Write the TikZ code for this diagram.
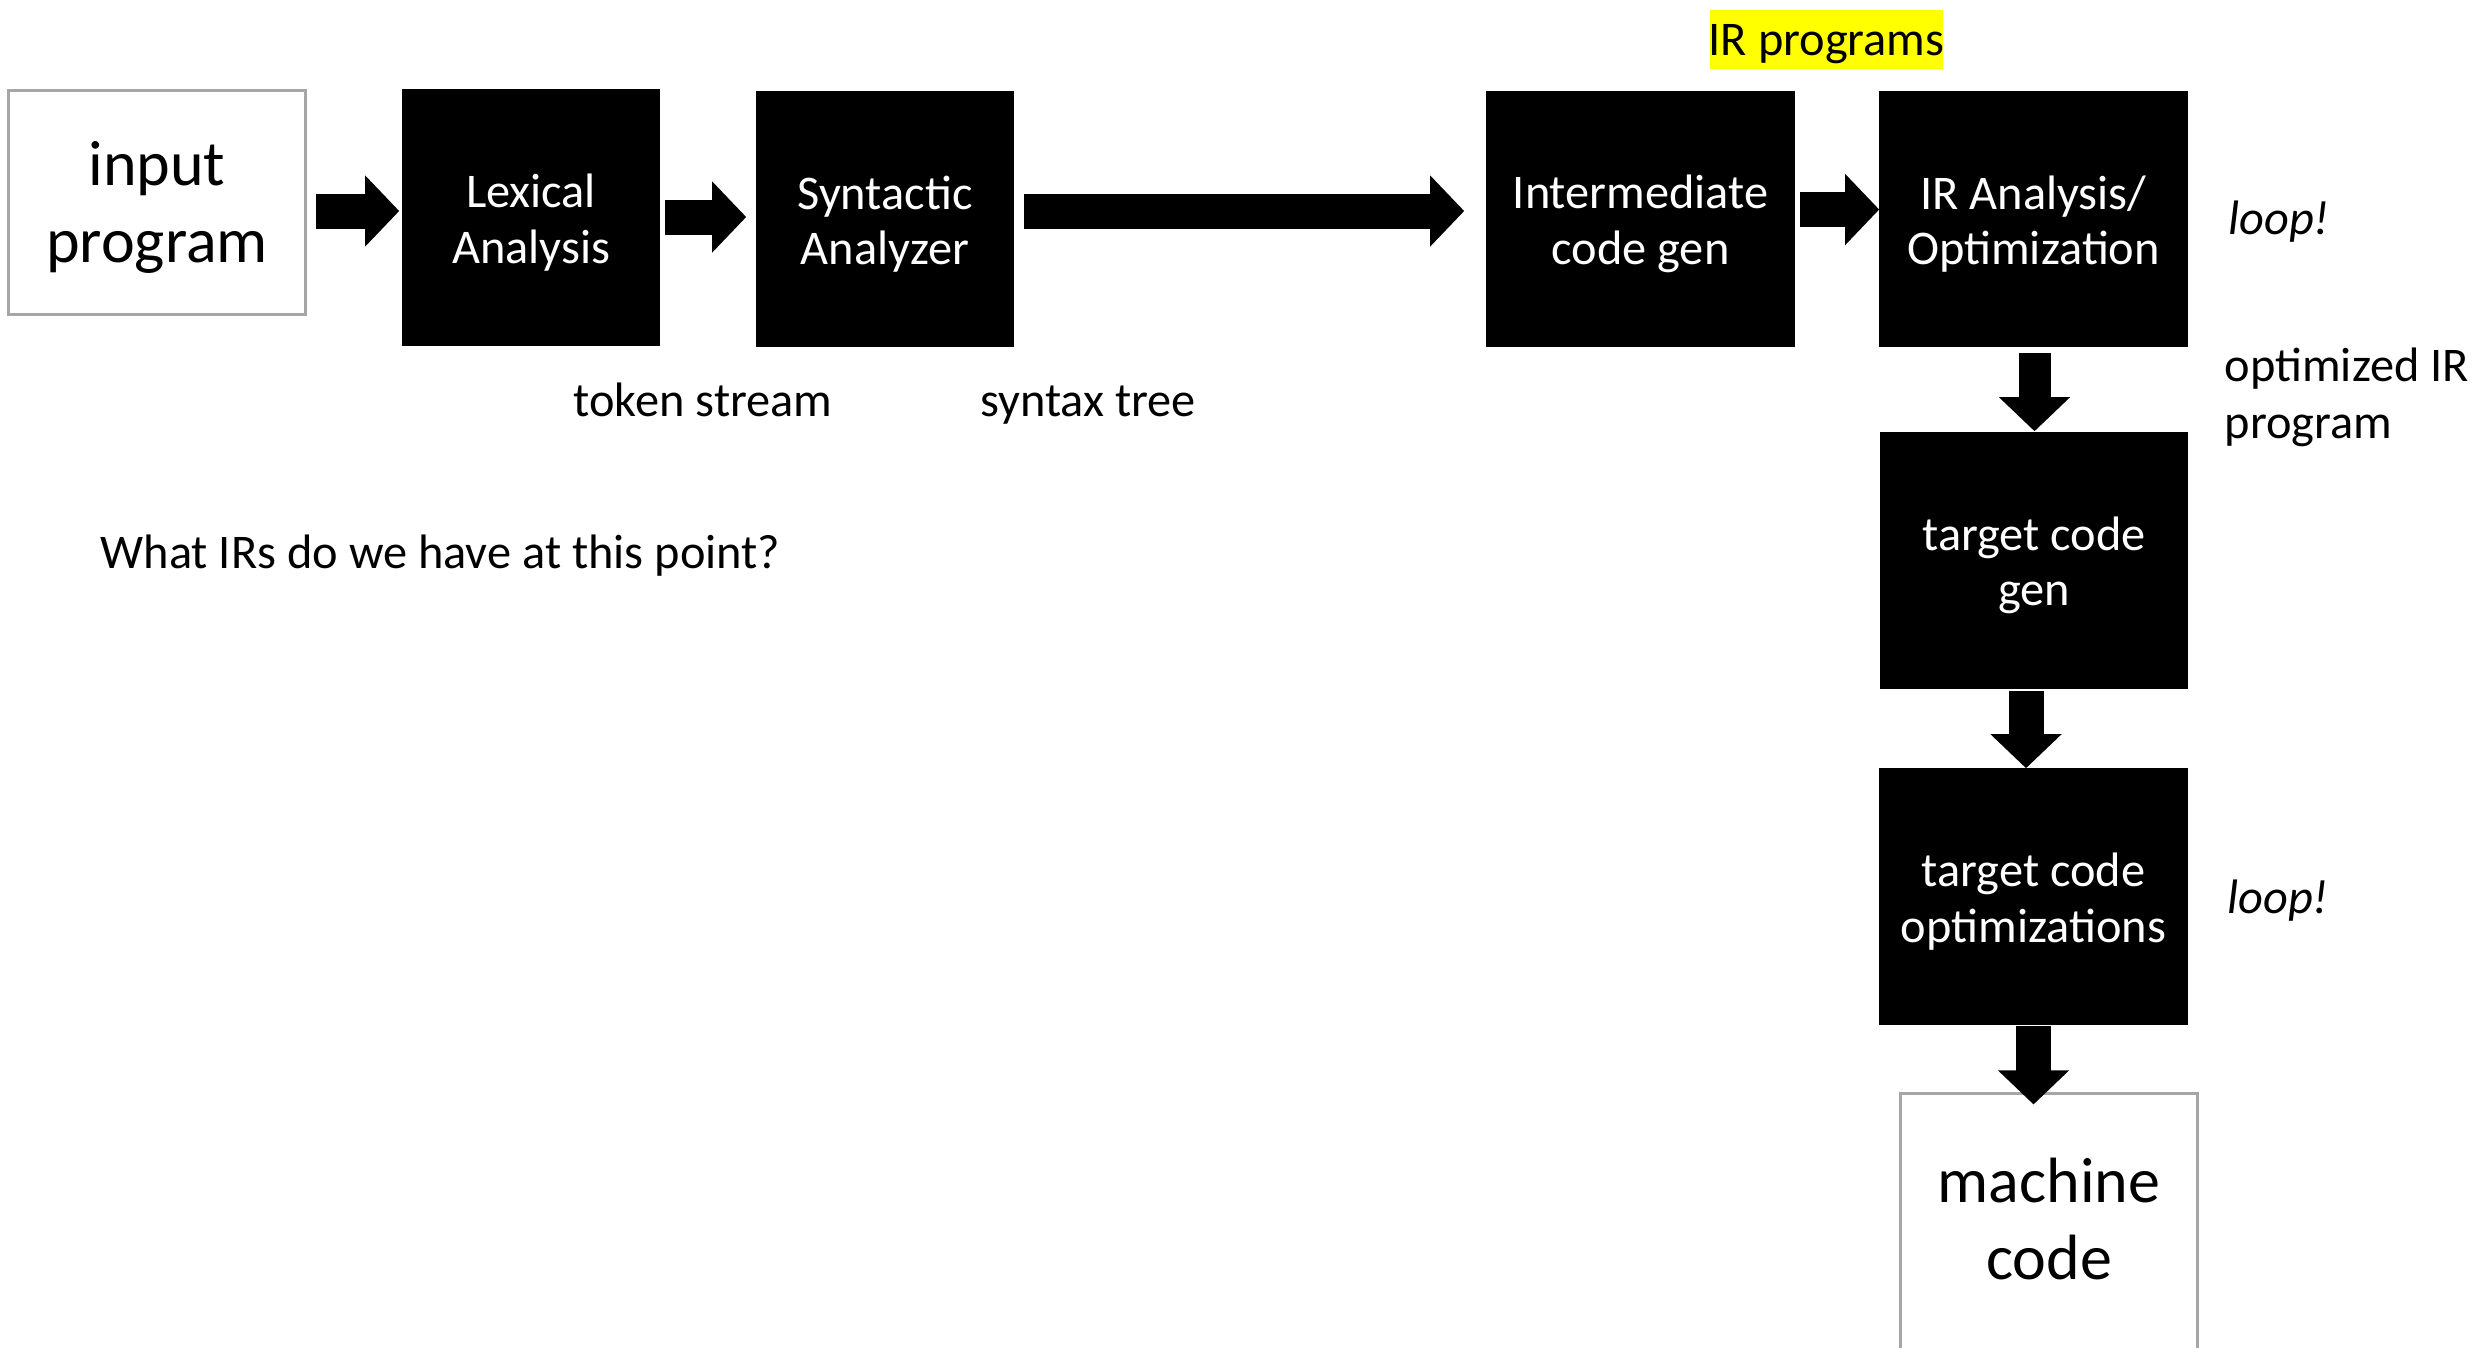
\documentclass[tikz,border=0pt]{standalone}
\usepackage{fontspec}
\setmainfont{Carlito}
\usetikzlibrary{arrows.meta,calc}
\definecolor{boxgray}{HTML}{A6A6A6}
\definecolor{hl}{HTML}{FFFF00}
\tikzset{
  blackbox/.style={fill=black, inner sep=0pt},
  whitebox/.style={draw=boxgray, line width=0.03cm, fill=white, inner sep=0pt},
  boxtext/.style={text=white, inner sep=0pt, align=center,
    font=\fontsize{13.75}{15.8}\selectfont},
  bigtext/.style={inner sep=0pt, align=center, font=\fontsize{18.2}{22.1}\selectfont},
  lbl/.style={inner sep=0pt, font=\fontsize{13.75}{16.2}\selectfont},
  blockarrow/.style={line width=0.35cm, -{Triangle[length=0.34cm,width=0.69cm]}}
}
\begin{document}
\begin{tikzpicture}[x=0.01cm,y=-0.01cm]
\useasboundingbox (0,0) rectangle (2483,1347);
% boxes
\node[whitebox, minimum width=2.96cm, minimum height=2.23cm] (input) at (157,202.5) {};
\node[blackbox, minimum width=2.58cm, minimum height=2.57cm] (lex) at (531,217.5) {};
\node[blackbox, minimum width=2.58cm, minimum height=2.56cm] (syn) at (885,219) {};
\node[blackbox, minimum width=3.09cm, minimum height=2.56cm] (inter) at (1640.5,219) {};
\node[blackbox, minimum width=3.09cm, minimum height=2.56cm] (iran) at (2033.5,219) {};
\node[blackbox, minimum width=3.08cm, minimum height=2.57cm] (tgen) at (2034,560.5) {};
\node[blackbox, minimum width=3.09cm, minimum height=2.57cm] (topt) at (2033.5,896.5) {};
\node[whitebox, minimum width=2.96cm, minimum height=2.62cm] (mach) at (2049,1225) {};
% box texts
\node[bigtext] (inputT) at ($(input.center)+(0,5)$) {input\\program};
\node[boxtext] (lexT) at ($(lex.center)+(0,5)$) {Lexical\\Analysis};
\node[boxtext] (synT) at ($(syn.center)+(0,5)$) {Syntactic\\Analyzer};
\node[boxtext] (interT) at ($(inter.center)+(0,5)$) {Intermediate\\code gen};
\node[boxtext] (iranT) at ($(iran.center)+(0,5)$) {IR Analysis/\\Optimization};
\node[boxtext] (tgenT) at ($(tgen.center)+(0,5)$) {target code\\gen};
\node[boxtext] (toptT) at ($(topt.center)+(0,5)$) {target code\\optimizations};
\node[bigtext] (machT) at (2049,1219) {machine\\code};
% labels
\node[fill=hl, inner sep=0pt, minimum width=2.33cm, minimum height=0.59cm] (irp) at (1826.5,39.5) {};
\node[lbl] (irpT) at (1826.5,44) {IR programs};
\node[lbl] (tok) at (703,400) {token stream};
\node[lbl] (stree) at (1088,405) {syntax tree};
\node[lbl, anchor=west] (what) at (100,556) {What IRs do we have at this point?};
\node[lbl, font=\fontsize{13.75}{16.2}\selectfont\itshape] (loop1) at (2279,222) {loop!};
\node[lbl, font=\fontsize{13.75}{16.2}\selectfont\itshape] (loop2) at (2278,901) {loop!};
\node[lbl, anchor=west, align=left] (oir) at (2224,397.5) {optimized IR\\program};
% arrows
\draw[blockarrow] ($(input.east)+(9,8.5)$) -- ($(lex.west)+(-2,-6.5)$);
\draw[blockarrow] ($(lex.east)+(4,-0.5)$) -- ($(syn.west)+(-9,-2)$);
\draw[blockarrow] ($(syn.east)+(9,-8)$) -- ($(inter.west)+(-21,-8)$);
\draw[blockarrow] ($(inter.east)+(4,-9.5)$) -- ($(iran.west)+(1,-9.5)$);
\draw[blockarrow, line width=0.32cm] ($(iran.south)+(1,5)$) -- ($(tgen.north)+(0.5,0)$);
\draw[blockarrow] ($(tgen.south)+(-8,1)$) -- ($(topt.north)+(-7.5,1)$);
\draw[blockarrow] ($(topt.south)+(0,0)$) -- ($(mach.north)+(-15.5,12)$);
\end{tikzpicture}
\end{document}
